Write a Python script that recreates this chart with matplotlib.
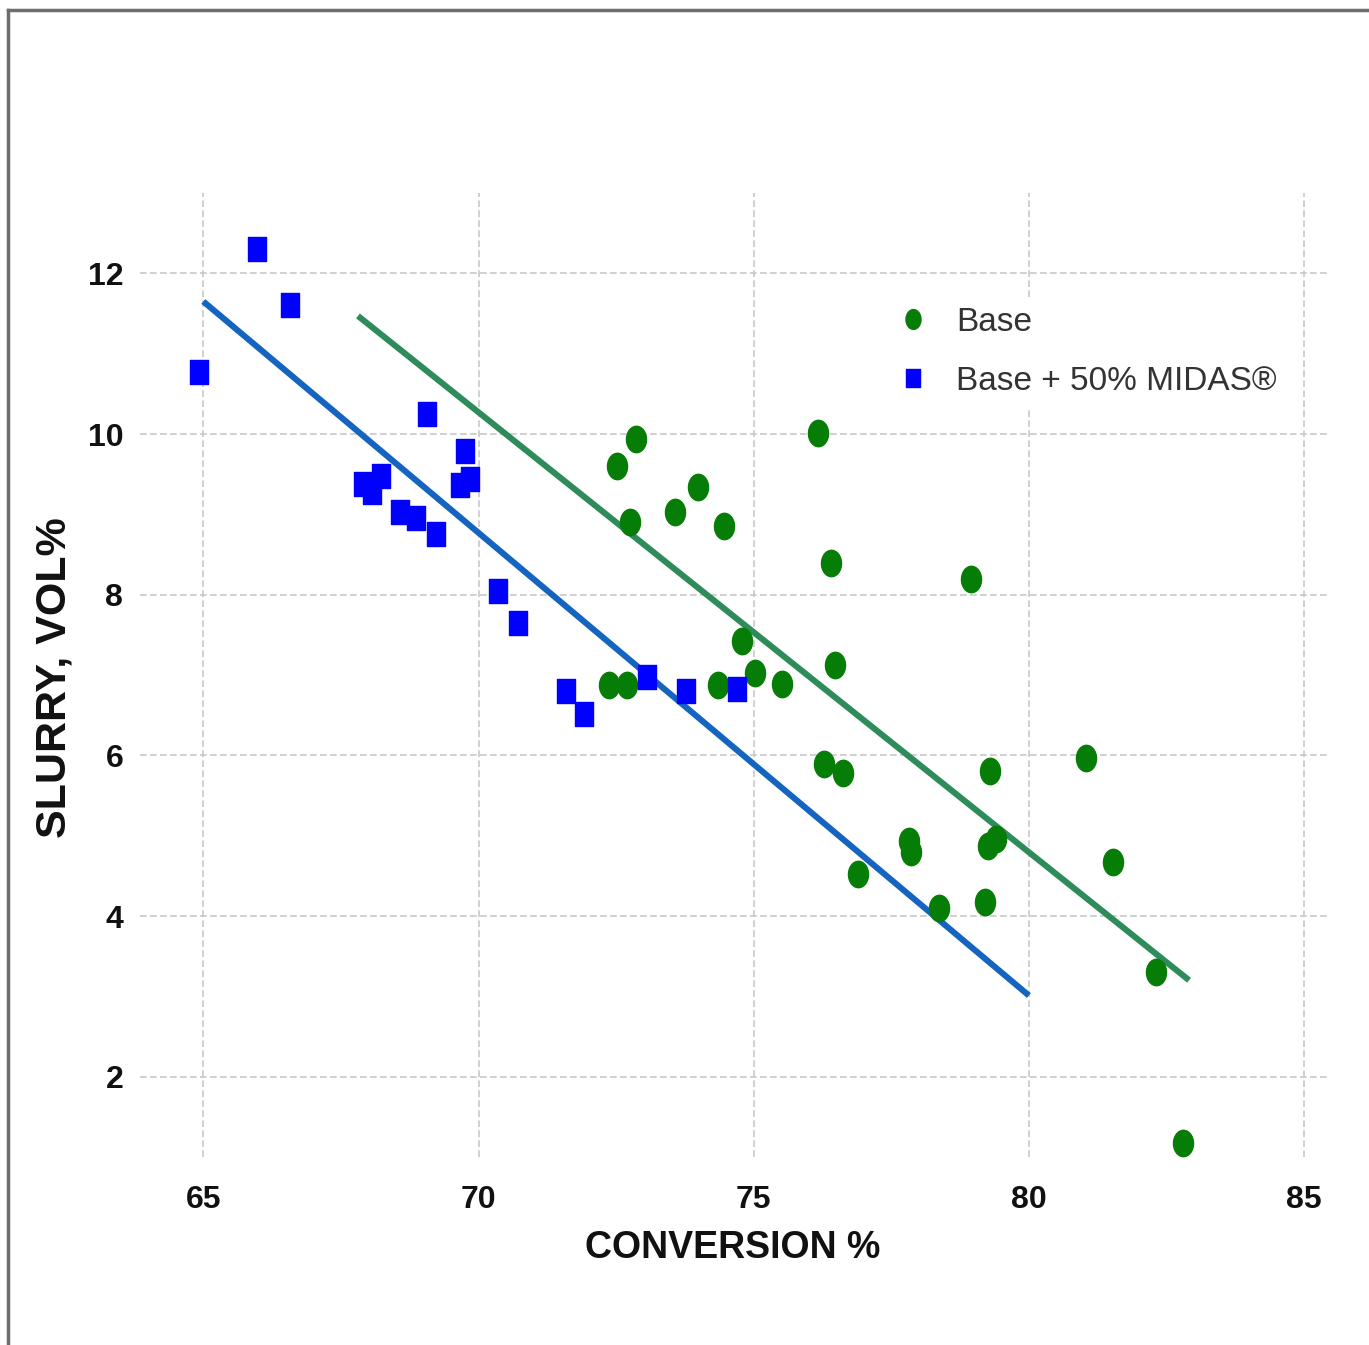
import matplotlib
matplotlib.use('Agg')
import numpy as np
import matplotlib.pyplot as plt
from matplotlib.path import Path
from matplotlib.transforms import Affine2D
from matplotlib.lines import Line2D

#--- data ---#
base_x = [72.86, 72.51, 72.75, 73.57, 73.98, 74.46, 76.16, 76.40, 74.78, 72.37,
          72.70, 74.35, 75.02, 75.51, 76.47, 78.94, 76.27, 76.62, 79.30, 81.04,
          77.82, 77.85, 76.89, 79.26, 79.41, 81.52, 78.36, 79.21, 82.31, 82.80]
base_y = [9.94, 9.60, 8.91, 9.03, 9.34, 8.86, 10.01, 8.40, 7.42, 6.88,
          6.87, 6.87, 7.02, 6.89, 7.12, 8.19, 5.89, 5.78, 5.81, 5.97,
          4.93, 4.80, 4.52, 4.87, 4.96, 4.67, 4.10, 4.17, 3.30, 1.17]
midas_x = [65.98, 66.58, 64.93, 69.07, 69.76, 69.84, 69.66, 68.23, 67.90, 68.06,
           68.58, 68.87, 69.23, 70.35, 70.72, 71.59, 71.91, 73.06, 73.77, 74.69]
midas_y = [12.30, 11.60, 10.77, 10.25, 9.79, 9.44, 9.36, 9.48, 9.38, 9.28,
           9.03, 8.96, 8.75, 8.05, 7.65, 6.80, 6.52, 6.97, 6.80, 6.82]
#--- trend lines (end points) ---#
base_fit_x = [67.81, 82.91]
base_fit_y = [11.47, 3.20]
midas_fit_x = [65.0, 80.0]
midas_fit_y = [11.65, 3.01]

x_ticks = [65, 70, 75, 80, 85]
y_ticks = [2, 4, 6, 8, 10, 12]

sans = ['Liberation Sans', 'DejaVu Sans']

#--- stretched markers (picture is squeezed sideways) ---#
ellipse = Path.unit_circle().transformed(Affine2D().scale(0.76, 1.0))
box = Path([(-0.39, -0.5), (0.39, -0.5), (0.39, 0.5), (-0.39, 0.5), (-0.39, -0.5)],
           [Path.MOVETO, Path.LINETO, Path.LINETO, Path.LINETO, Path.CLOSEPOLY])

fig = plt.figure(figsize=(13.69, 13.45), dpi=100)
ax = fig.add_axes([140/1369, 1-1157/1345, (1330-140)/1369, (1157-193)/1345])

ax.plot(base_fit_x, base_fit_y, color='#2e8b5a', lw=4.4, solid_capstyle='butt', zorder=3)
ax.plot(midas_fit_x, midas_fit_y, color='#1565c0', lw=4.4, solid_capstyle='butt', zorder=3)
ax.plot(base_x, base_y, ls='none', marker=ellipse, ms=19, color='#067d06', zorder=4, label='Base')
ax.plot(midas_x, midas_y, ls='none', marker=box, ms=17, color='#0000ff', zorder=4,
        label='Base + 50% MIDAS®')

ax.set_xlim(63.85, 85.47)
ax.set_ylim(1.0, 13.0)
ax.set_xticks(x_ticks)
ax.set_yticks(y_ticks)
for s in ax.spines.values():
    s.set_visible(False)
ax.grid(True, color='#c8c8c8', ls=(0, (4, 2)), lw=1.2)
ax.set_axisbelow(True)
ax.tick_params(length=0, labelsize=23)
ax.tick_params(axis='y', pad=12)
ax.tick_params(axis='x', pad=20)
for lab in ax.get_xticklabels() + ax.get_yticklabels():
    lab.set_family(sans)
    lab.set_fontweight('bold')
    lab.set_color('#111111')

ax.set_xlabel('CONVERSION %', family=sans, fontweight='bold', fontsize=27, color='#111111')
ax.xaxis.set_label_coords((733-140)/1190, -(1248-1157)/964)
ax.xaxis.label.set_va('center')
ax.set_ylabel('SLURRY, VOL%', family=sans, fontweight='bold', fontsize=31, color='#111111')
ax.yaxis.set_label_coords(-(140-55)/1190, 1-(678-193)/964)
ax.yaxis.label.set_va('center')

leg = ax.legend(loc='upper left', bbox_to_anchor=((876-140)/1190, 1-(280-193)/964),
                frameon=True, facecolor='white', edgecolor='none', framealpha=1,
                markerscale=0.75, handlelength=0.6, handletextpad=1.0, labelspacing=0.85,
                borderpad=0.3, prop={'family': sans, 'size': 24})
for t in leg.get_texts():
    t.set_color('#333333')
leg.set_zorder(2)

#--- outer frame, only top and left are inside the picture ---#
fig.add_artist(Line2D([8/1369, 8/1369], [0, 1-10/1345], transform=fig.transFigure, color='#6e6e6e', lw=2.5))
fig.add_artist(Line2D([8/1369, 1], [1-10/1345, 1-10/1345], transform=fig.transFigure, color='#6e6e6e', lw=2.5))

fig.savefig('out.png', dpi=100)
